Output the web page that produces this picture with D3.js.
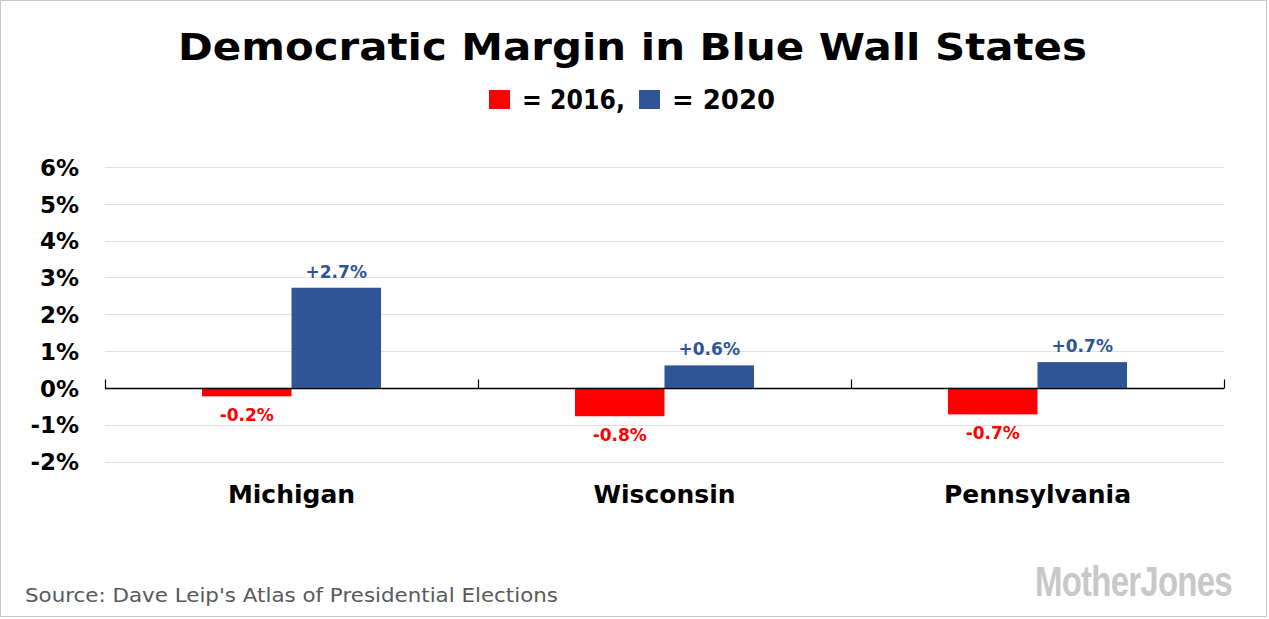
<!DOCTYPE html>
<html lang="en">
<head>
<meta charset="utf-8">
<title>Democratic Margin in Blue Wall States</title>
<script src="https://d3js.org/d3.v7.min.js"></script>
<style>
  body { margin: 0; background: #fff; }
  svg { display: block; }
</style>
</head>
<body>
<script>
// data
var states = ["Michigan", "Wisconsin", "Pennsylvania"];
var years = ["2016", "2020"];
var margin2016 = [-0.23, -0.77, -0.72];
var margin2020 = [2.72, 0.61, 0.70];
var labels2016 = ["-0.2%", "-0.8%", "-0.7%"];
var labels2020 = ["+2.7%", "+0.6%", "+0.7%"];
var yTicks = [-2, -1, 0, 1, 2, 3, 4, 5, 6];

var colors = { "2016": "#ff0000", "2020": "#2f5597" };
var font = "DejaVu Sans";

var w = 1269, h = 619;
var left = 105, right = 1224;

var svg = d3.select("body").append("svg")
  .attr("width", w)
  .attr("height", h);

// frame
svg.append("rect")
  .attr("x", 0.5).attr("y", 0.5)
  .attr("width", w - 3).attr("height", h - 3)
  .attr("fill", "#fff")
  .attr("stroke", "#c8c8c8");

// title
svg.append("text")
  .attr("x", 178).attr("y", 60)
  .attr("font-family", font)
  .attr("font-weight", "bold")
  .attr("font-size", 38)
  .attr("fill", "#000")
  .attr("textLength", 909)
  .attr("lengthAdjust", "spacingAndGlyphs")
  .text("Democratic Margin in Blue Wall States");

// legend line
var leg = svg.append("g").attr("font-family", font).attr("font-weight", "bold")
  .attr("font-size", 26).attr("fill", "#000");
leg.append("rect").attr("x", 489).attr("y", 90).attr("width", 21).attr("height", 19).attr("fill", colors["2016"]);
leg.append("text").attr("x", 522).attr("y", 109)
  .attr("textLength", 103).attr("lengthAdjust", "spacingAndGlyphs").text("= 2016,");
leg.append("rect").attr("x", 639).attr("y", 90).attr("width", 21).attr("height", 19).attr("fill", colors["2020"]);
leg.append("text").attr("x", 672).attr("y", 109)
  .attr("textLength", 103).attr("lengthAdjust", "spacingAndGlyphs").text("= 2020");

// scales
var x0 = d3.scaleBand().domain(states).range([left, right]);
var bw = x0.bandwidth();
var x1 = d3.scaleBand().domain(years).range([bw * 0.26, bw * 0.74]);
var y = d3.scaleLinear().domain([-2, 6]).range([461.5, 167]);

// gridlines
svg.append("g")
  .selectAll("line")
  .data(yTicks.filter(function(d) { return d !== 0; }))
  .enter().append("line")
  .attr("x1", left).attr("x2", right)
  .attr("y1", function(d) { return Math.round(y(d)) + 0.5; })
  .attr("y2", function(d) { return Math.round(y(d)) + 0.5; })
  .attr("stroke", "#e0e0e0")
  .attr("stroke-width", 1);

// y axis labels
var yAxis = d3.axisLeft(y)
  .tickValues(yTicks)
  .tickSize(0)
  .tickPadding(0)
  .tickFormat(function(d) { return d + "%"; });

var gy = svg.append("g")
  .attr("transform", "translate(79,0)")
  .call(yAxis);
gy.select(".domain").remove();
gy.selectAll("text")
  .attr("font-family", font)
  .attr("font-weight", "bold")
  .attr("font-size", 23)
  .attr("fill", "#000")
  .attr("dy", "0.36em");

// bars
var rows = states.map(function(s, i) {
  return { state: s, vals: [
    { year: "2016", v: margin2016[i], label: labels2016[i] },
    { year: "2020", v: margin2020[i], label: labels2020[i] }
  ]};
});

var groups = svg.append("g").selectAll("g")
  .data(rows)
  .enter().append("g")
  .attr("transform", function(d) { return "translate(" + x0(d.state) + ",0)"; });

groups.selectAll("rect")
  .data(function(d) { return d.vals; })
  .enter().append("rect")
  .attr("x", function(d) { return x1(d.year); })
  .attr("width", x1.bandwidth())
  .attr("y", function(d) { return y(Math.max(0, d.v)); })
  .attr("height", function(d) { return Math.abs(y(d.v) - y(0)); })
  .attr("fill", function(d) { return colors[d.year]; });

groups.selectAll("text")
  .data(function(d) { return d.vals; })
  .enter().append("text")
  .attr("x", function(d) { return x1(d.year) + x1.bandwidth() / 2; })
  .attr("y", function(d) { return d.v >= 0 ? y(d.v) - 10 : y(d.v) + 25; })
  .attr("text-anchor", "middle")
  .attr("font-family", font)
  .attr("font-weight", "bold")
  .attr("font-size", 17)
  .attr("fill", function(d) { return colors[d.year]; })
  .text(function(d) { return d.label; });

// zero axis with category ticks
var y0 = Math.round(y(0)) + 0.5;
svg.append("line")
  .attr("x1", left).attr("x2", right)
  .attr("y1", y0).attr("y2", y0)
  .attr("stroke", "#000").attr("stroke-width", 1.5);

var edges = states.map(function(s) { return x0(s); }).concat([right]);
svg.append("g").selectAll("line")
  .data(edges)
  .enter().append("line")
  .attr("x1", function(d) { return Math.round(d) + 0.5; })
  .attr("x2", function(d) { return Math.round(d) + 0.5; })
  .attr("y1", y0 - 9).attr("y2", y0)
  .attr("stroke", "#000").attr("stroke-width", 1.2);

// category labels
svg.append("g").selectAll("text")
  .data(states)
  .enter().append("text")
  .attr("x", function(d) { return x0(d) + bw / 2; })
  .attr("y", 503)
  .attr("text-anchor", "middle")
  .attr("font-family", font)
  .attr("font-weight", "bold")
  .attr("font-size", 25)
  .attr("fill", "#000")
  .text(function(d) { return d; });

// source
svg.append("text")
  .attr("x", 25).attr("y", 602)
  .attr("font-family", font)
  .attr("font-size", 19)
  .attr("fill", "#595959")
  .attr("textLength", 533)
  .attr("lengthAdjust", "spacingAndGlyphs")
  .text("Source: Dave Leip's Atlas of Presidential Elections");

// logo, squeezed horizontally to fit its box
var logo = svg.append("text")
  .attr("font-family", "Liberation Sans Narrow, Liberation Sans")
  .attr("font-weight", 700)
  .attr("font-size", 42)
  .attr("letter-spacing", -1)
  .attr("fill", "#c8c8c8")
  .text("MotherJones");
var lw = logo.node().getComputedTextLength();
logo.attr("transform", "translate(1035,596) scale(" + (197 / lw) + ",1)");
</script>
</body>
</html>
